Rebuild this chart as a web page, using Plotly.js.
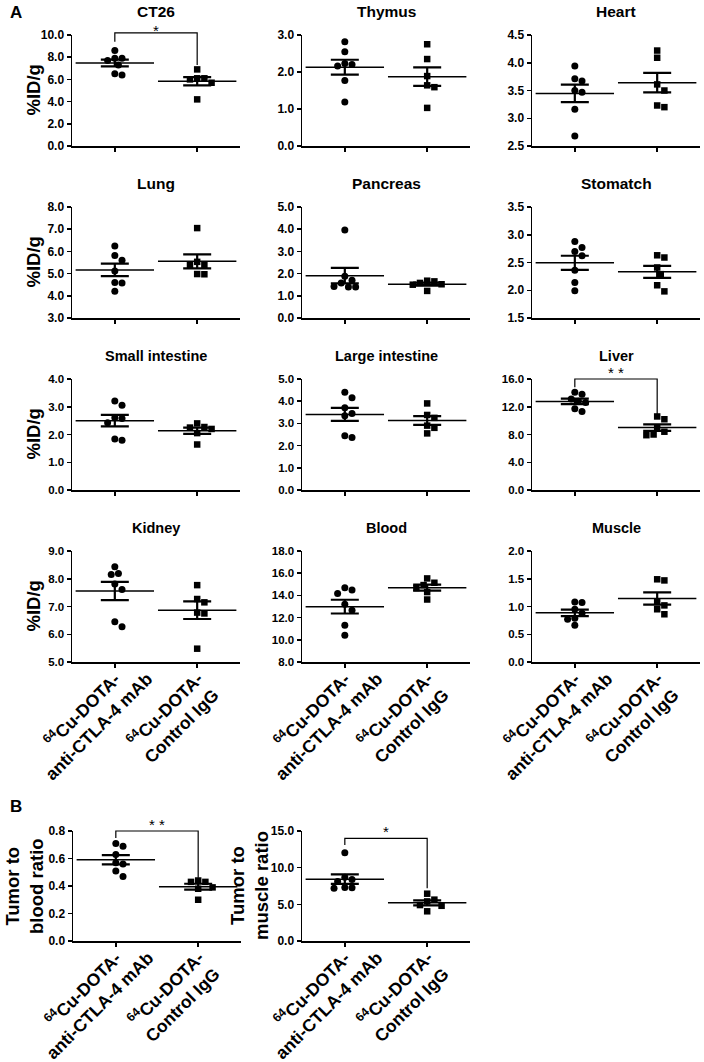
<!DOCTYPE html>
<html><head><meta charset="utf-8">
<script src="https://cdn.plot.ly/plotly-3.0.1.min.js"></script>
<style>html,body{margin:0;padding:0;background:#fff}#chart{width:704px;height:1062px}</style>
</head><body><div id="chart"></div>
<script>
// ---------------- data ----------------
const categories = ['<sup>64</sup>Cu-DOTA-<br>anti-CTLA-4 mAb', '<sup>64</sup>Cu-DOTA-<br>Control IgG'];

const ct26_mab = [8.6, 7.9, 7.9, 7.7, 7.3, 6.5, 6.4];
const ct26_igg = [6.9, 6.1, 6.1, 6.0, 5.7, 4.2];
const thymus_mab = [2.82, 2.55, 2.23, 2.2, 2.16, 1.77, 1.19];
const thymus_igg = [2.75, 2.35, 1.89, 1.64, 1.59, 1.03];
const heart_mab = [3.94, 3.71, 3.67, 3.50, 3.47, 3.16, 2.68];
const heart_igg = [4.22, 4.09, 3.61, 3.50, 3.23, 3.20];
const lung_mab = [6.24, 5.82, 5.6, 5.12, 4.6, 4.58, 4.2];
const lung_igg = [7.05, 5.53, 5.4, 5.38, 4.98, 4.97];
const pancreas_mab = [3.96, 1.88, 1.7, 1.58, 1.42, 1.4, 1.4];
const pancreas_igg = [1.68, 1.65, 1.58, 1.52, 1.5, 1.22];
const stomach_mab = [2.88, 2.77, 2.70, 2.62, 2.36, 2.14, 1.99];
const stomach_igg = [2.63, 2.59, 2.41, 2.29, 2.09, 1.98];
const smallint_mab = [3.21, 3.05, 2.6, 2.58, 2.42, 1.84, 1.79];
const smallint_igg = [2.4, 2.27, 2.25, 2.2, 2.05, 1.64];
const largeint_mab = [4.4, 4.15, 3.7, 3.45, 3.34, 2.44, 2.36];
const largeint_igg = [3.9, 3.38, 3.25, 2.9, 2.8, 2.55];
const liver_mab = [14.1, 13.8, 13.1, 12.8, 12.6, 11.7, 11.3];
const liver_igg = [10.6, 10.2, 8.9, 8.4, 8.0, 7.9];
const kidney_mab = [8.43, 8.19, 8.15, 7.81, 7.61, 6.45, 6.27];
const kidney_igg = [7.77, 7.27, 7.15, 6.78, 6.75, 5.48];
const blood_mab = [14.69, 14.48, 14.17, 13.2, 12.67, 11.31, 10.4];
const blood_igg = [15.53, 15.14, 14.93, 14.66, 14.3, 13.63];
const muscle_mab = [1.08, 1.07, 0.95, 0.88, 0.79, 0.77, 0.66];
const muscle_igg = [1.49, 1.47, 1.08, 1.02, 0.95, 0.86];
const tumorBlood_mab = [0.71, 0.69, 0.63, 0.57, 0.56, 0.51, 0.47];
const tumorBlood_igg = [0.44, 0.43, 0.43, 0.39, 0.38, 0.30];
const tumorMuscle_mab = [12.05, 8.7, 8.4, 8.1, 7.3, 7.25, 7.2];
const tumorMuscle_igg = [6.45, 5.64, 5.4, 4.9, 4.8, 4.05];

// ---------------- panel configuration ----------------
const W = 704, H = 1062;
const AXW = 168, AXH = 111;
const XR = [-0.52, 1.52];
const colX = [72, 302, 532];
const rowY = [35, 207, 379, 551];
const FONT = 'Liberation Sans, Arial, sans-serif';

const panels = [
  {title:'CT26', a:ct26_mab, b:ct26_igg, yr:[0,10], dt:2, col:0, row:0, ylab:'%ID/g', sig:{txt:'*', top:10.2, l:9.4, r:7.3, s:10.45}},
  {title:'Thymus', a:thymus_mab, b:thymus_igg, yr:[0,3], dt:1, col:1, row:0},
  {title:'Heart', a:heart_mab, b:heart_igg, yr:[2.5,4.5], dt:0.5, col:2, row:0},
  {title:'Lung', a:lung_mab, b:lung_igg, yr:[3,8], dt:1, col:0, row:1, ylab:'%ID/g'},
  {title:'Pancreas', a:pancreas_mab, b:pancreas_igg, yr:[0,5], dt:1, col:1, row:1},
  {title:'Stomatch', a:stomach_mab, b:stomach_igg, yr:[1.5,3.5], dt:0.5, col:2, row:1},
  {title:'Small intestine', a:smallint_mab, b:smallint_igg, yr:[0,4], dt:1, col:0, row:2, ylab:'%ID/g', narrow:true},
  {title:'Large intestine', a:largeint_mab, b:largeint_igg, yr:[0,5], dt:1, col:1, row:2, narrow:true},
  {title:'Liver', a:liver_mab, b:liver_igg, yr:[0,16], dt:4, col:2, row:2, narrow:true, sig:{txt:'* *', top:16.0, l:14.8, r:10.6, s:16.9}},
  {title:'Kidney', a:kidney_mab, b:kidney_igg, yr:[5,9], dt:1, col:0, row:3, ylab:'%ID/g', narrow:true, xlab:true},
  {title:'Blood', a:blood_mab, b:blood_igg, yr:[8,18], dt:2, col:1, row:3, narrow:true, xlab:true},
  {title:'Muscle', a:muscle_mab, b:muscle_igg, yr:[0,2], dt:0.5, col:2, row:3, narrow:true, xlab:true},
  {title:'', a:tumorBlood_mab, b:tumorBlood_igg, yr:[0,0.8], dt:0.2, px:73, py:831, ylab:'Tumor to<br>blood ratio', ylx:24, xlab:true, sig:{txt:'* *', top:0.8, l:0.75, r:0.46, s:0.844}},
  {title:'', a:tumorMuscle_mab, b:tumorMuscle_igg, yr:[0,15], dt:5, px:302, py:831, ylab:'Tumor to<br>muscle ratio', ylx:249, xlab:true, sig:{txt:'*', top:14.0, l:13.1, r:7.2, s:14.95}}
];

function mean(v){return v.reduce((s,x)=>s+x,0)/v.length;}
function sem(v){const m=mean(v);const ss=v.reduce((s,x)=>s+(x-m)*(x-m),0);return Math.sqrt(ss/(v.length-1))/Math.sqrt(v.length);}

// beeswarm offsets (in px) computed from the values and the axis scale
function swarm(vals, yr, hpx, d){
  const ppu = hpx/(yr[1]-yr[0]);
  const order = vals.map((v,i)=>i).sort((a,b)=>vals[b]-vals[a]);
  const placed = [];
  const off = new Array(vals.length).fill(0);
  const step = d/2;
  for (const i of order){
    const py = vals[i]*ppu;
    for (let k=0;k<40;k++){
      const c = k===0 ? 0 : (k%2 ? 1 : -1)*Math.ceil(k/2)*step;
      let ok = true;
      for (const p of placed){ if (Math.hypot(p[0]-c, p[1]-py) < d) { ok=false; break; } }
      if (ok){ off[i]=c; placed.push([c,py]); break; }
    }
  }
  return off;
}

const traces = [];
const layout = {
  width: W, height: H, margin:{l:0,r:0,t:0,b:0},
  paper_bgcolor:'#fff', plot_bgcolor:'#fff', showlegend:false,
  annotations:[], shapes:[]
};

panels.forEach((p, k) => {
  const n = k+1;
  const xs = n===1 ? '' : String(n);
  const xa = 'x'+xs, ya = 'y'+xs;
  const x0 = p.px !== undefined ? p.px : colX[p.col];
  const y0 = p.py !== undefined ? p.py : rowY[p.row];
  const ah = p.py !== undefined ? 110 : AXH;
  const pxPerX = AXW/(XR[1]-XR[0]);

  layout['xaxis'+xs] = {
    domain:[x0/W, (x0+AXW)/W], anchor:ya, range:XR, fixedrange:true,
    showline:true, linecolor:'#000', linewidth:1.5, mirror:false,
    showgrid:false, zeroline:false,
    tickmode:'array', tickvals:[0,1], ticktext:['',''],
    showticklabels:false, ticks:'outside', ticklen:4, tickwidth:1.5, tickcolor:'#000'
  };
  layout['yaxis'+xs] = {
    domain:[1-(y0+ah)/H, 1-y0/H], anchor:xa, range:p.yr, fixedrange:true,
    showline:true, linecolor:'#000', linewidth:1.5,
    showgrid:false, zeroline:false,
    tick0:p.yr[0], dtick:p.dt, tickformat:'.1f',
    ticks:'outside', ticklen:4, tickwidth:1.5, tickcolor:'#000',
    tickfont:{family:FONT, size:p.narrow ? 11.5 : 12, color:'#000', weight:'bold'}
  };

  [p.a, p.b].forEach((vals, g) => {
    const off = swarm(vals, p.yr, ah, 7.2);
    traces.push({
      type:'scatter', mode:'markers', xaxis:xa, yaxis:ya, cliponaxis:false, hoverinfo:'skip',
      x: vals.map((v,i)=> g + off[i]/pxPerX), y: vals,
      marker:{symbol: g===0 ? 'circle' : 'square', size: g===0 ? 7 : 6.5, color:'#000', line:{width:0}}
    });
    traces.push({
      type:'scatter', mode:'markers', xaxis:xa, yaxis:ya, cliponaxis:false, hoverinfo:'skip',
      x:[g], y:[mean(vals)],
      marker:{symbol:'line-ew', size:56, color:'#000', line:{width:1.5, color:'#000'}},
      error_y:{type:'data', array:[sem(vals)], visible:true, width:14, thickness:2.2, color:'#000'}
    });
    if (p.xlab){
      layout.annotations.push({
        xref:xa, yref:'paper', x:g, y:1-(y0+ah)/H, xshift:-25, yshift:-55,
        xanchor:'center', yanchor:'middle', textangle:-45, align:'center',
        text:'<b>'+categories[g]+'</b>', showarrow:false,
        font:{family:FONT, size:17.5, color:'#000'}
      });
    }
  });

  if (p.title){
    layout.annotations.push({
      xref:'paper', yref:'paper', x:(x0+AXW/2)/W, y:1-(y0-23.5)/H, xanchor:'center', yanchor:'middle',
      text:'<b>'+p.title+'</b>', showarrow:false, font:{family:FONT, size:p.narrow ? 14.5 : 15.5, color:'#000'}
    });
  }
  if (p.ylab){
    layout.annotations.push({
      xref:'paper', yref:'paper', x:(p.ylx!==undefined ? p.ylx : 33)/W, y:1-(y0+ah/2)/H,
      xanchor:'center', yanchor:'middle', textangle:-90,
      text:'<b>'+p.ylab+'</b>', showarrow:false, font:{family:FONT, size:p.ylx!==undefined?18.5:18.5, color:'#000'}
    });
  }
  if (p.sig){
    const fx = v => (v - XR[0])/(XR[1]-XR[0]);
    const fy = v => (v - p.yr[0])/(p.yr[1]-p.yr[0]);
    layout.shapes.push({
      type:'path', xref:xa+' domain', yref:ya+' domain',
      path:`M ${fx(0)},${fy(p.sig.l)} L ${fx(0)},${fy(p.sig.top)} L ${fx(1)},${fy(p.sig.top)} L ${fx(1)},${fy(p.sig.r)}`,
      line:{color:'#000', width:1.2}
    });
    layout.annotations.push({
      xref:xa+' domain', yref:ya+' domain', x:fx(0.5), y:fy(p.sig.s), text:p.sig.txt, showarrow:false,
      font:{family:FONT, size:15, color:'#000'}, xanchor:'center', yanchor:'middle'
    });
  }
});

layout.annotations.push({xref:'paper', yref:'paper', x:8/W, y:1-12/H, xanchor:'left', yanchor:'middle', text:'<b>A</b>', showarrow:false, font:{family:FONT, size:17, color:'#000'}});
layout.annotations.push({xref:'paper', yref:'paper', x:8/W, y:1-806/H, xanchor:'left', yanchor:'middle', text:'<b>B</b>', showarrow:false, font:{family:FONT, size:17, color:'#000'}});

Plotly.newPlot('chart', traces, layout, {displayModeBar:false, staticPlot:true});
</script></body></html>
